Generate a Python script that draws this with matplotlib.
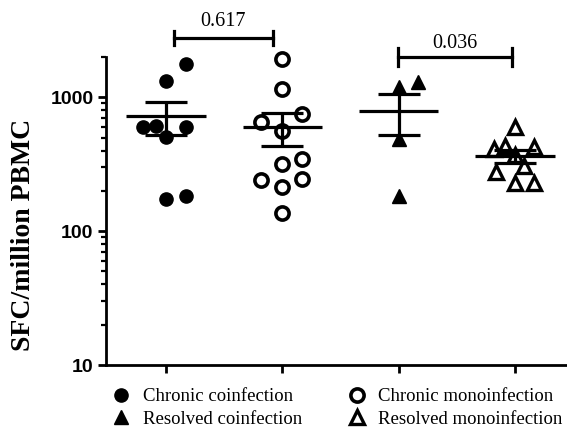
import numpy as np
import matplotlib.pyplot as plt
from matplotlib.lines import Line2D

# SFC/million PBMC per subject
chronic_co = [1780, 1332, 596, 612, 596, 501, 173, 183]
chronic_mono = [1937, 1154, 750, 656, 562, 345, 316, 240, 244, 215, 137]
resolved_co = [1188, 1309, 487, 183]
resolved_mono = [599, 410, 432, 424, 369, 305, 275, 227, 227]

groups = ["Chronic coinfection", "Chronic monoinfection",
          "Resolved coinfection", "Resolved monoinfection"]
pvals = ["0.617", "0.036"]

# horizontal scatter of the dots inside each column
jitter = [
    [0.17, 0, -0.2, -0.09, 0.17, 0, 0, 0.17],
    [0, 0, 0.17, -0.18, 0, 0.17, 0, -0.18, 0.17, 0, 0],
    [0, 0.17, 0, 0],
    [0, -0.18, -0.09, 0.16, 0, 0.08, -0.16, 0, 0.16],
]

serif = "Liberation Serif"
sans = "Liberation Sans"

fig = plt.figure(figsize=(5.67, 4.30), dpi=100)
ax = fig.add_axes([106/567, 65/430, 461/567, 308/430])

styles = [
    dict(marker="o", ms=9.5, mfc="black", mec="black"),
    dict(marker="o", ms=9.5, mfc="white", mec="black", mew=2.6),
    dict(marker="^", ms=9.5, mfc="black", mec="black"),
    dict(marker="^", ms=9.5, mfc="white", mec="black", mew=2.4),
]

data = [chronic_co, chronic_mono, resolved_co, resolved_mono]
for i, vals in enumerate(data):
    pos = i + 1
    xs = pos + np.array(jitter[i])
    ax.plot(xs, vals, ls="none", zorder=2, clip_on=False, **styles[i])
    v = np.array(vals, dtype=float)
    m = v.mean()
    sem = v.std(ddof=1) / np.sqrt(len(v))
    ax.hlines(m, pos - 0.34, pos + 0.34, color="black", lw=2.3, zorder=3)
    ax.hlines([m - sem, m + sem], pos - 0.18, pos + 0.18, color="black", lw=2.3, zorder=3)
    ax.vlines(pos, m - sem, m + sem, color="black", lw=2.3, zorder=3)

ax.set_yscale("log")
ax.set_ylim(10, 2000)
ax.set_xlim(0.4845, 4.447)
ax.set_xticks([1, 2, 3, 4])
ax.set_xticklabels([])
ax.set_yticks([10, 100, 1000])
ax.set_yticklabels(["10", "100", "1000"], fontfamily=sans, fontweight="bold", fontsize=14)

for s in ["top", "right"]:
    ax.spines[s].set_visible(False)
for s in ["left", "bottom"]:
    ax.spines[s].set_linewidth(2.0)
ax.tick_params(axis="both", which="major", direction="out", length=6, width=2.0, pad=3)
ax.tick_params(axis="y", which="minor", direction="out", length=3.5, width=1.6)
ax.tick_params(axis="x", which="major", length=6)

ax.set_ylabel("SFC/million PBMC", fontfamily=serif, fontweight="bold", fontsize=20)
ax.yaxis.set_label_coords(-0.152, 0.422)

# significance brackets
trans = ax.get_xaxis_transform()
brackets = [(1.069, 1.919, 1.0617, 0.024, pvals[0], 1.114),
            (2.991, 3.974, 1.0, 0.029, pvals[1], 1.043)]
for x0, x1, yb, cap, txt, ty in brackets:
    ax.plot([x0, x1], [yb, yb], color="black", lw=2.3, transform=trans, clip_on=False)
    ax.plot([x0, x0], [yb - cap, yb + cap], color="black", lw=2.3, transform=trans, clip_on=False)
    ax.plot([x1, x1], [yb - cap, yb + cap], color="black", lw=2.3, transform=trans, clip_on=False)
    ax.text((x0 + x1) / 2, ty, txt, transform=trans, ha="center", va="center",
            fontfamily=serif, fontsize=14.5)

handles = [Line2D([], [], ls="none", **styles[i]) for i in [0, 2, 1, 3]]
labels = [groups[i] for i in [0, 2, 1, 3]]
fig.legend(handles, labels, ncol=2, loc="upper left", bbox_to_anchor=(112/567, 1 - 388/430),
           frameon=False, prop={"family": serif, "size": 13.5},
           handlelength=1.0, handletextpad=0.65, columnspacing=2.4,
           labelspacing=0.3, borderpad=0, borderaxespad=0)

fig.savefig("out.png", dpi=100)
